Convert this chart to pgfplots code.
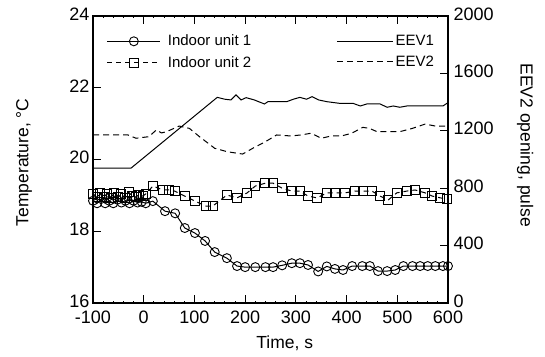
\documentclass[border=0pt]{standalone}
\usepackage{fontspec}
\setmainfont{Liberation Sans}
\usepackage{pgfplots}
\pgfplotsset{compat=1.18}
\pgfplotstableread{
t T
-100 18.85
-92 18.78
-84 18.90
-76 18.78
-68 18.85
-60 18.78
-52 18.88
-44 18.80
-36 18.85
-28 18.78
-20 18.85
-12 18.80
-4 18.82
4 18.78
18 18.84
42 18.56
62 18.50
81 18.09
101 17.95
121 17.73
140 17.42
164 17.25
184 17.03
200 17.00
220 17.00
240 17.00
255 17.00
273 17.05
292 17.11
308 17.11
324 17.06
344 16.88
361 17.02
377 16.95
393 16.92
411 17.03
431 17.03
446 17.03
462 16.89
480 16.89
496 16.92
512 17.03
530 17.03
545 17.03
560 17.03
575 17.03
590 17.03
600 17.03
}\unitone
\pgfplotstableread{
t T
-100 19.05
-93 18.95
-86 19.07
-79 18.95
-72 19.05
-65 18.93
-58 19.07
-51 18.95
-44 19.03
-37 18.93
-30 19.10
-23 18.98
-16 18.95
-9 19.02
-2 18.98
5 19.05
18 19.26
38 19.15
50 19.15
61 19.12
81 18.98
101 18.84
123 18.70
136 18.70
164 19.01
184 18.93
204 19.07
220 19.26
240 19.34
255 19.34
273 19.20
292 19.12
308 19.12
324 18.98
342 18.93
361 19.07
377 19.07
397 19.07
417 19.12
433 19.12
450 19.12
466 18.98
482 18.87
499 19.07
519 19.12
535 19.15
555 19.07
569 18.98
585 18.93
598 18.90
}\unittwo
\pgfplotstableread{
t P
-100 940
-25 940
145 1433
160 1420
172 1415
182 1450
192 1415
202 1431
218 1415
238 1387
245 1403
282 1403
295 1420
308 1433
321 1420
332 1438
345 1415
361 1403
387 1391
413 1391
427 1373
440 1387
466 1387
480 1364
492 1373
505 1364
519 1373
545 1373
590 1373
600 1396
}\eevone
\pgfplotstableread{
t P
-100 1171
-31 1171
-15 1148
10 1159
25 1206
35 1185
45 1194
70 1233
90 1217
110 1159
140 1078
165 1054
195 1038
215 1078
240 1124
262 1171
290 1164
310 1171
330 1183
350 1148
370 1164
390 1164
410 1183
432 1224
445 1217
460 1194
480 1194
505 1194
530 1217
555 1247
575 1233
600 1233
}\eevtwo
\begin{document}
\begin{tikzpicture}
\useasboundingbox (-93pt,-53pt) rectangle (452pt,303pt);
\begin{axis}[
  at={(0pt,0pt)}, anchor=south west,
  scale only axis, width=355pt, height=287pt,
  xmin=-100, xmax=600, ymin=16, ymax=24,
  xtick={-100,0,...,600}, ytick={16,18,...,24},
  ytick pos=left, xtick pos=both,
  tick align=inside, major tick length=8pt,
  minor x tick num=4, minor tick length=2pt,
  axis line style={line width=1.1pt},
  every tick/.style={black, line width=1pt},
  /pgf/number format/assume math mode=true,
  /pgf/number format/1000 sep={},
  ticklabel style={font=\fontsize{18}{21}\selectfont, inner sep=0.5pt},
  xticklabel style={yshift=-7pt},
  yticklabel style={yshift=2pt, xshift=-3pt},
  label style={font=\fontsize{17.5}{21}\selectfont},
  xlabel={Time, s},
  ylabel={Temperature, °C},
  xlabel style={at={(axis description cs:0.54,-0.139)}, anchor=center},
  ylabel style={at={(axis description cs:-0.194,0.49)}, anchor=center},
  legend style={draw=none, fill=none, at={(axis description cs:0.03,0.948)}, anchor=north west,
    font=\fontsize{15}{18}\selectfont, row sep=5pt, cells={anchor=west}},
  legend image code/.code={\draw[mark repeat=2,mark phase=2,#1] plot coordinates {(0pt,0pt) (26.5pt,0pt) (53pt,0pt)};},
]
\addplot[black, line width=1pt, mark=o, mark size=4.5pt, mark options={solid, line width=0.9pt}] table[x=t,y=T] {\unitone};
\addlegendentry{\hspace{5pt}Indoor unit 1}
\addplot[black, line width=1pt, dash pattern=on 5pt off 4pt, mark=square, mark size=4.5pt, mark options={solid, line width=0.9pt}] table[x=t,y=T] {\unittwo};
\addlegendentry{\hspace{5pt}Indoor unit 2}
\end{axis}
\begin{axis}[
  at={(0pt,0pt)}, anchor=south west,
  scale only axis, width=355pt, height=287pt,
  xmin=-100, xmax=600, ymin=0, ymax=2000,
  axis x line=none, axis y line*=right,
  ytick={0,400,...,2000},
  tick align=inside, major tick length=8pt,
  axis line style={line width=1.1pt, -},
  every tick/.style={black, line width=1pt},
  /pgf/number format/assume math mode=true,
  /pgf/number format/1000 sep={},
  ticklabel style={font=\fontsize{18}{21}\selectfont, inner sep=0.5pt},
  yticklabel style={yshift=2pt, xshift=5pt},
  label style={font=\fontsize{17.5}{21}\selectfont},
  ylabel={EEV2 opening, pulse},
  ylabel style={at={(axis description cs:1.217,0.55)}, anchor=center, rotate=180},
  legend style={draw=none, fill=none, at={(axis description cs:0.975,0.948)}, anchor=north east,
    font=\fontsize{15}{18}\selectfont, row sep=5pt, cells={anchor=west}},
  legend image code/.code={\draw[#1] (0pt,0pt) -- (56pt,0pt);},
]
\addplot[black, line width=1pt] table[x=t,y=P] {\eevone};
\addlegendentry{EEV1}
\addplot[black, line width=1pt, dash pattern=on 6pt off 4pt] table[x=t,y=P] {\eevtwo};
\addlegendentry{EEV2}
\end{axis}
\end{tikzpicture}
\end{document}
